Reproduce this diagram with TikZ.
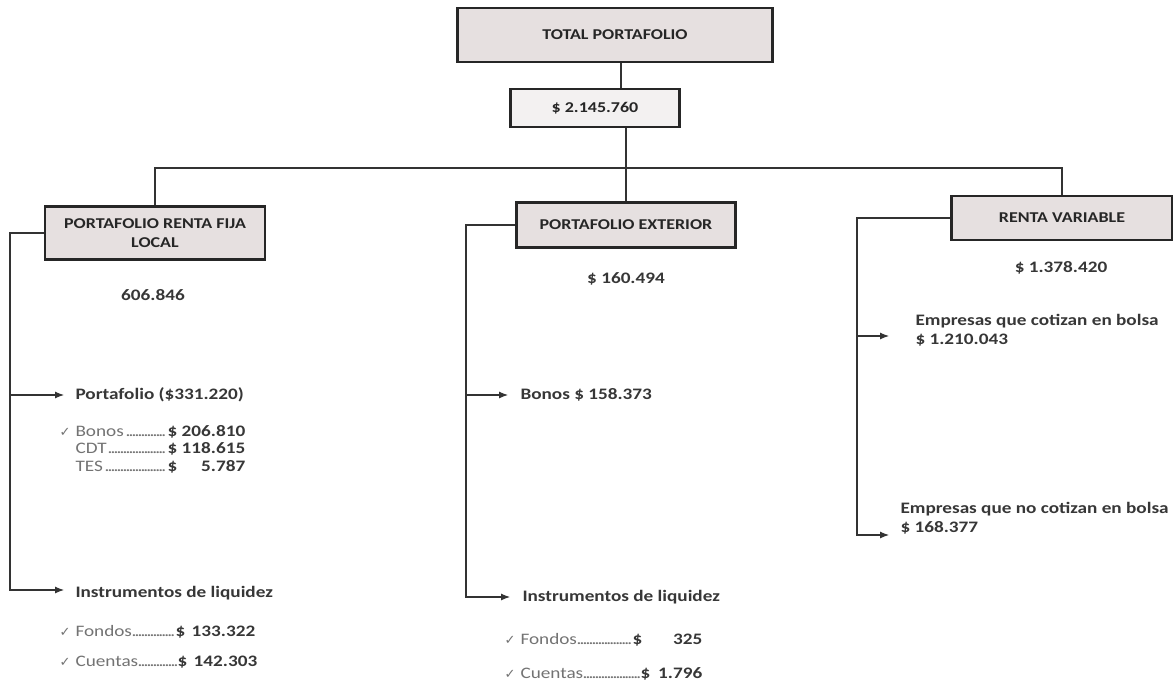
\documentclass[tikz,border=0pt]{standalone}
\usepackage{fontspec}
\setmainfont{Carlito}[FakeStretch=1.2]
\newfontfamily\simbolos{DejaVu Sans}
\usetikzlibrary{arrows.meta}
\definecolor{relleno}{RGB}{230,224,224}
\definecolor{rellenoclaro}{RGB}{243,241,241}
\definecolor{texto}{RGB}{55,55,55}
\definecolor{gris}{RGB}{115,115,115}
\newcommand{\chk}{{\simbolos\fontsize{13}{13}\selectfont\color{gris}✓}}
\newcommand{\puntos}{\leaders\hbox to 3pt{\hss.\hss}\hfill}
\newcommand{\renglon}[4]{\makebox[#1][l]{#2\puntos}{\color{texto}\textbf{\$}\makebox[#3][r]{\textbf{#4}}}}

\begin{document}
\begin{tikzpicture}[x=1pt, y=-1pt,
    caja/.style={draw=black!85, line width=2.5pt, fill=relleno, align=center, text=black!85,
      font=\fontsize{15}{19}\selectfont\bfseries},
    valor/.style={text=texto, font=\fontsize{16}{19}\selectfont\bfseries},
    item/.style={anchor=west, align=left, text=gris, font=\fontsize{16}{17.5}\selectfont},
    rama/.style={draw=black!80, line width=1.1pt},
    flecha/.style={rama, -{Latex[length=9pt,width=7pt]}}]
  \useasboundingbox[fill=white] (0,0) rectangle (1173,685); % reference size

  % top of the tree
  \node[caja, minimum width=315pt, minimum height=54pt] (total) at (615,35) {TOTAL PORTAFOLIO};
  \node[caja, fill=rellenoclaro, minimum width=169pt, minimum height=38pt] (monto) at (595,108) {\$ 2.145.760};
  \node[caja, minimum width=220pt, minimum height=53pt] (rf) at (155,233) {PORTAFOLIO RENTA FIJA\\LOCAL};
  \node[caja, minimum width=219pt, minimum height=45pt] (ext) at (626,225) {PORTAFOLIO EXTERIOR};
  \node[caja, minimum width=221pt, minimum height=44pt] (rv) at (1062,218) {RENTA VARIABLE};

  \coordinate (eje) at (621,0);
  \coordinate (bus) at (626,168);
  \draw[rama] (total.south -| eje) -- (monto.north -| eje);
  \draw[rama] (monto.south -| bus) -- (ext.north);
  \draw[rama] (rf.north) |- (bus) -| (rv.north);

  \node[valor] (rfv) at (153,295) {606.846};
  \node[valor] (extv) at (626,279) {\$ 160.494};
  \node[valor] (rvv) at (1061,268) {\$ 1.378.420};

  % renta fija local
  \coordinate (rfx) at (10,0);
  \coordinate (rfa1) at (64,395);
  \coordinate (rfa2) at (64,590);
  \node[valor, anchor=west] (rfp) at (72,395) {Portafolio (\$331.220)};
  \node[item] (rfl) at (72,449) {\llap{\chk\hspace{5pt}}\renglon{92pt}{Bonos}{68pt}{206.810}\\
    \renglon{92pt}{CDT}{68pt}{118.615}\\\renglon{92pt}{TES}{68pt}{5.787}};
  \node[valor, anchor=west] (rfi) at (72,593) {Instrumentos de liquidez};
  \node[item] (rff) at (72,632) {\llap{\chk\hspace{5pt}}\renglon{100pt}{Fondos}{70pt}{133.322}};
  \node[item] (rfc) at (72,662) {\llap{\chk\hspace{5pt}}\renglon{102pt}{Cuentas}{70pt}{142.303}};
  \draw[flecha] (rf.west) -- (rf.west -| rfx) |- (rfa2);
  \draw[flecha] (rfx |- rfa1) -- (rfa1);

  % portafolio exterior
  \coordinate (exx) at (466,0);
  \coordinate (exa1) at (508,395);
  \coordinate (exa2) at (510,597);
  \node[valor, anchor=west] (exb) at (517,395) {Bonos \$ 158.373};
  \node[valor, anchor=west] (exi) at (519,597) {Instrumentos de liquidez};
  \node[item] (exf) at (517,640) {\llap{\chk\hspace{5pt}}\renglon{112pt}{Fondos}{60pt}{325}};
  \node[item] (exc) at (517,674) {\llap{\chk\hspace{5pt}}\renglon{120pt}{Cuentas}{52pt}{1.796}};
  \draw[flecha] (ext.west) -- (ext.west -| exx) |- (exa2);
  \draw[flecha] (exx |- exa1) -- (exa1);

  % renta variable
  \coordinate (rvx) at (857,0);
  \coordinate (rva1) at (889,336);
  \coordinate (rva2) at (889,535);
  \node[valor, anchor=west, align=left] (rvc) at (912,330) {Empresas que cotizan en bolsa\\\$ 1.210.043};
  \node[valor, anchor=west, align=left] (rvn) at (897,518) {Empresas que no cotizan en bolsa\\\$ 168.377};
  \draw[flecha] (rv.west) -- (rv.west -| rvx) |- (rva2);
  \draw[flecha] (rvx |- rva1) -- (rva1);
\end{tikzpicture}
\end{document}
